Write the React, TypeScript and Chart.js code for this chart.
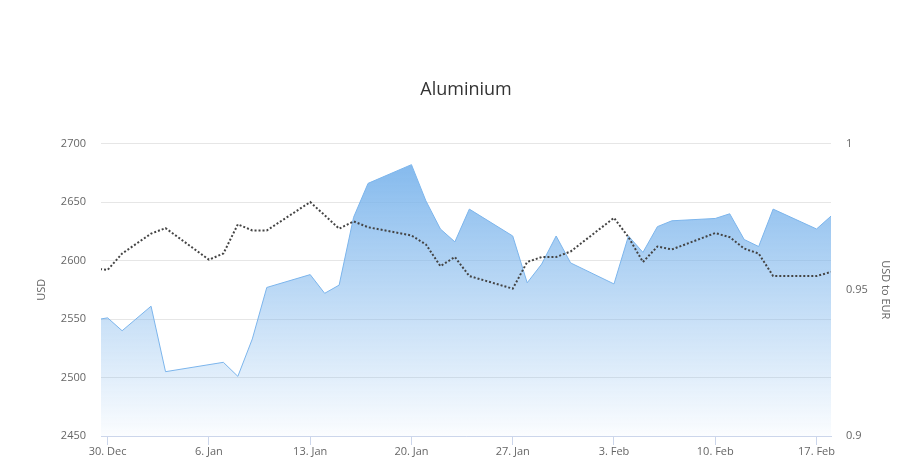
import React, { useEffect, useRef } from "react";
import { Chart, registerables } from "chart.js";

Chart.register(...registerables);

// Day offsets from 30 Dec
const days = [-3, 0, 1, 3, 4, 7, 8, 9, 10, 11, 14, 15, 16, 17, 18, 21, 22, 23, 24, 25, 28, 29, 30, 31, 32, 35, 36, 37, 38, 39, 42, 43, 44, 45, 46, 49, 50];
const aluminium = [2545, 2551, 2540, 2561, 2505, null, 2513, 2501, 2533, 2577, 2588, 2572, 2579, 2637, 2666, 2682, 2651, 2627, 2616, 2644, 2621, 2581, 2597, 2621, 2598, 2580, 2621, 2607, 2629, 2634, 2636, 2640, 2618, 2612, 2644, 2627, 2638];
const usdToEur = [0.9583, 0.9568, 0.9624, 0.9692, 0.9711, 0.9603, 0.9624, 0.9724, 0.9703, 0.9703, 0.98, 0.9755, 0.9709, 0.9734, 0.9714, 0.9686, 0.9655, 0.9581, 0.9612, 0.9547, 0.9504, 0.9595, 0.9612, 0.9612, 0.9631, 0.9746, 0.968, 0.9595, 0.9648, 0.9638, 0.9694, 0.968, 0.9641, 0.9624, 0.9547, 0.9547, 0.9561];
const tickDays = [0, 7, 14, 21, 28, 35, 42, 49];
const tickLabels = ["30. Dec", "6. Jan", "13. Jan", "20. Jan", "27. Jan", "3. Feb", "10. Feb", "17. Feb"];
const usdTicks = [2450, 2500, 2550, 2600, 2650, 2700];
const eurTicks = [0.9, 0.95, 1];

const FONT = "'Open Sans', 'DejaVu Sans', sans-serif";

export default function App() {
  const ref = useRef<HTMLCanvasElement>(null);
  useEffect(() => {
    document.body.style.margin = "0";
    const ctx = ref.current!.getContext("2d")!;
    const chart = new Chart(ctx, {
      type: "line",
      data: {
        datasets: [
          {
            label: "Aluminium",
            data: days.map((d, i) => ({ x: d, y: aluminium[i] as any })),
            yAxisID: "y",
            borderColor: "#7cb5ec",
            borderWidth: 1,
            pointRadius: 0,
            tension: 0,
            spanGaps: true,
            fill: "start",
            backgroundColor: (c: any) => {
              const area = c.chart.chartArea;
              if (!area) return "rgba(124,181,236,0.5)";
              const g = c.chart.ctx.createLinearGradient(0, area.top, 0, area.bottom);
              g.addColorStop(0, "rgba(124,181,236,1)");
              g.addColorStop(1, "rgba(124,181,236,0.03)");
              return g;
            },
            order: 2,
          },
          {
            label: "USD to EUR",
            data: days.map((d, i) => ({ x: d, y: usdToEur[i] })),
            yAxisID: "y1",
            borderColor: "#444444",
            borderWidth: 2,
            borderDash: [2, 2],
            pointRadius: 0,
            tension: 0,
            fill: false,
            order: 1,
          },
        ],
      },
      options: {
        animation: false,
        responsive: false,
        maintainAspectRatio: false,
        layout: { padding: 0 },
        plugins: {
          legend: { display: false },
          tooltip: { enabled: false },
          title: {
            display: true,
            text: "Aluminium",
            fullSize: false,
            color: "#333333",
            font: { family: FONT, size: 18, weight: "normal" },
            padding: { top: 79, bottom: 43 },
          },
        },
        scales: {
          x: {
            type: "linear",
            min: -0.46,
            max: 50,
            afterBuildTicks: (s: any) => {
              s.ticks = tickDays.map((v) => ({ value: v }));
            },
            afterFit: (s: any) => {
              s.height = 22;
            },
            ticks: {
              autoSkip: false,
              maxRotation: 0,
              padding: 0,
              color: "#666666",
              font: { family: FONT, size: 11 },
              callback: (v: any) => {
                const i = tickDays.indexOf(Number(v));
                return i >= 0 ? tickLabels[i] : "";
              },
            },
            grid: { drawOnChartArea: false, drawTicks: true, tickLength: 9, color: "#ccd6eb" },
            border: { display: true, color: "#ccd6eb" },
          },
          y: {
            position: "left",
            min: 2450,
            max: 2700,
            afterBuildTicks: (s: any) => {
              s.ticks = usdTicks.map((v) => ({ value: v }));
            },
            afterFit: (s: any) => {
              s.width = 101;
            },
            ticks: {
              padding: 15,
              color: "#666666",
              font: { family: FONT, size: 11 },
              callback: (v: any) => String(Number(v)),
            },
            grid: { color: "#e6e6e6", drawTicks: false },
            border: { display: false },
            title: {
              display: true,
              text: "USD",
              color: "#666666",
              font: { family: FONT, size: 11 },
              padding: { top: 35, bottom: 0 },
            },
          },
          y1: {
            position: "right",
            min: 0.9,
            max: 1,
            afterBuildTicks: (s: any) => {
              s.ticks = eurTicks.map((v) => ({ value: v }));
            },
            afterFit: (s: any) => {
              s.width = 75;
            },
            ticks: {
              padding: 15,
              color: "#666666",
              font: { family: FONT, size: 11 },
              callback: (v: any) => String(Number(v)),
            },
            grid: { display: false, drawTicks: false },
            border: { display: false },
            title: {
              display: true,
              text: "USD to EUR",
              color: "#666666",
              font: { family: FONT, size: 11 },
              padding: { top: 14, bottom: 0 },
            },
          },
        },
      },
    });
    return () => chart.destroy();
  }, []);
  return (
    <div style={{ width: 906, height: 458, position: "relative" }}>
      <canvas ref={ref} width={906} height={458} style={{ display: "block" }} />
    </div>
  );
}
